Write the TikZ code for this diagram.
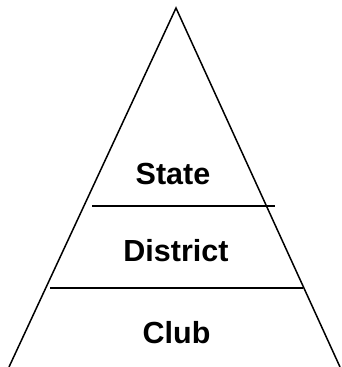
\documentclass[tikz,border=0pt]{standalone}
\usepackage{fontspec}
\setmainfont{Liberation Sans}
\usetikzlibrary{positioning}

\begin{document}
\begin{tikzpicture}[
  x=1pt,y=-1pt,
  side/.style={line width=1.5pt},
  divider/.style={line width=1.5pt},
  level/.style={anchor=base,font=\bfseries\fontsize{30.5}{34}\selectfont,inner sep=0pt}
]
  \useasboundingbox (0,0) rectangle (341,367);
  \coordinate (apex) at (176,8);
  \coordinate (baseL) at (9,367);
  \coordinate (baseR) at (340,367);
  \coordinate (upL) at (92,206);
  \coordinate (upR) at (275,206);
  \coordinate (lowL) at (50,288);
  \coordinate (lowR) at (303,288);

  \node[level] (state) at (173,184) {State};
  \node[level] (district) at (176,261) {District};
  \node[level] (club) at (176.5,343) {Club};

  \draw[side] (baseL) -- (apex) -- (baseR);
  \draw[divider] (upL) -- (upR);
  \draw[divider] (lowL) -- (lowR);
\end{tikzpicture}
\end{document}
